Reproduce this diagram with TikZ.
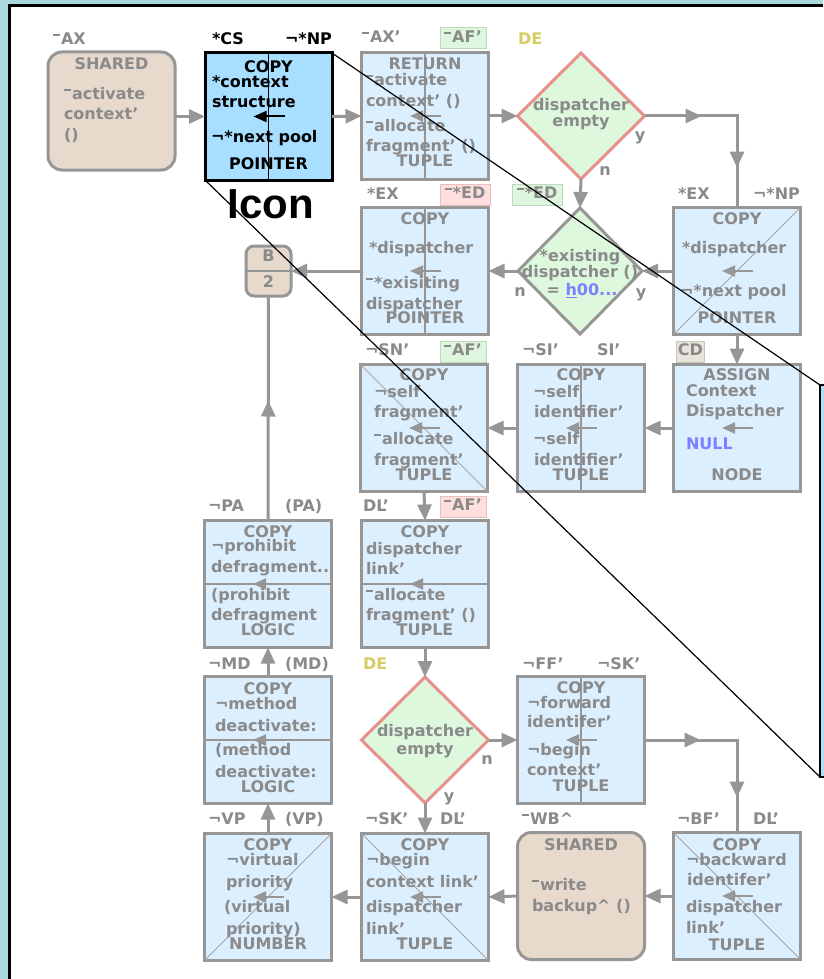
\documentclass[tikz,border=0pt]{standalone}
\usepackage{fontspec}
\setmainfont{DejaVu Sans}
\newfontfamily\iconfont{Liberation Sans}
\usetikzlibrary{shapes.geometric,arrows.meta,decorations.markings,calc}

\definecolor{framebg}{RGB}{170,217,220}
\definecolor{boxblue}{RGB}{220,239,255}
\definecolor{selblue}{RGB}{168,222,255}
\definecolor{linegray}{RGB}{150,150,150}
\definecolor{textgray}{RGB}{138,138,138}
\definecolor{thingray}{RGB}{165,165,165}
\definecolor{sharedtan}{RGB}{232,217,205}
\definecolor{decgreen}{RGB}{221,248,221}
\definecolor{decred}{RGB}{232,145,140}
\definecolor{greenfill}{RGB}{222,245,222}
\definecolor{greenline}{RGB}{190,215,190}
\definecolor{redfill}{RGB}{255,222,222}
\definecolor{redline}{RGB}{235,190,190}
\definecolor{grayfill}{RGB}{232,228,220}
\definecolor{grayline}{RGB}{200,196,188}
\definecolor{tagyellow}{RGB}{214,204,100}
\definecolor{valueblue}{RGB}{125,128,255}

% raised bar used as the "not yet defined" prefix mark
\newcommand\ovl{\raisebox{8.5pt}{\rule{7pt}{2pt}}\hspace{1pt}}

\tikzset{
  every node/.style={inner sep=0pt, outer sep=0pt},
  opbox/.style={draw=linegray, line width=3pt, fill=boxblue, minimum width=127pt, minimum height=127pt},
  selbox/.style={draw=black, line width=3pt, fill=selblue, minimum width=127pt, minimum height=127pt},
  sharedbox/.style={draw=linegray, line width=3pt, fill=sharedtan, rounded corners=14pt, minimum width=127pt, minimum height=127pt},
  decision/.style={diamond, draw=decred, line width=3pt, fill=decgreen, minimum width=127pt, minimum height=126pt},
  lbl/.style={font=\bfseries\fontsize{16}{16}\selectfont, text=textgray, text height=10pt, text depth=2.5pt},
  ln/.style={lbl, anchor=west},
  hd/.style={lbl, anchor=center},
  tagbox/.style={lbl, anchor=center, draw=#1line, fill=#1fill, line width=1pt, minimum height=21pt, inner xsep=3pt},
  conn/.style={draw=linegray, line width=3pt, -{Triangle[length=16pt,width=14pt]}},
  divider/.style={draw=linegray, line width=2pt},
  diag/.style={draw=thingray, line width=1pt},
  zoomline/.style={draw=black, line width=1.2pt},
  midtips/.style={color=linegray, line width=3pt, postaction={decorate},
    decoration={markings, mark=at position #1 with {\arrow{Triangle[length=16pt,width=14pt]}}}},
  bendtips/.style 2 args={color=linegray, line width=3pt, postaction={decorate},
    decoration={markings,
      mark=at position #1 with {\arrow{Triangle[length=16pt,width=14pt]}},
      mark=at position #2 with {\arrow{Triangle[length=16pt,width=14pt]}}}},
}

% small wire glyph at the centre of an operation box
\newcommand\wireglyph[2]{%
  \draw[#2, line width=2pt, {Triangle[length=13pt,width=11pt]}-]
    ($(#1.center)+(-15,0)$) -- ($(#1.center)+(16,0)$);%
}

\begin{document}
\begin{tikzpicture}[x=1pt, y=-1pt]
\useasboundingbox (0,0) rectangle (823,979);

% window frame
\fill[framebg] (0,0) rectangle (823,979);
\fill[white] (10,6) rectangle (823,979);
\draw[black, line width=3pt] (9.5,979) -- (9.5,5.5) -- (823,5.5);

% magnified view edge
\coordinate (zt) at (820,385);
\coordinate (zb) at (820,777);
\draw[black, line width=2pt, fill=selblue] (zt) rectangle (832,777);

% ---------- nodes ----------
\node[sharedbox, minimum height=118pt] (b1) at (111.5,111) {};
\node[selbox] (b2) at (268.5,116.5) {};
\node[opbox] (b3) at (425,116) {};
\node[decision] (d1) at (581,116) {};

\node[draw=linegray, line width=3pt, fill=sharedtan, rounded corners=8pt,
      minimum width=45pt, minimum height=50pt] (bb) at (268.5,271) {};
\node[opbox] (b4) at (425,271) {};
\node[decision, draw=linegray, minimum width=124pt] (d2) at (580,271) {};
\node[opbox] (b5) at (737,271) {};

\node[opbox] (b6) at (424,428) {};
\node[opbox] (b7) at (581,428) {};
\node[opbox] (b8) at (737,428) {};

\node[opbox] (b9) at (268,584) {};
\node[opbox] (b10) at (425,584) {};

\node[opbox] (b11) at (268,740) {};
\node[decision] (d3) at (425,740) {};
\node[opbox] (b12) at (581,740) {};

\node[opbox] (b13) at (268,897) {};
\node[opbox] (b14) at (425,897) {};
\node[sharedbox] (b15) at (581,896) {};
\node[opbox] (b16) at (737,896) {};

% ---------- dividers inside boxes ----------
\draw[black, line width=1.5pt] (b2.north) -- (b2.south);
\draw[divider] (b3.north) -- (b3.south);
\draw[divider] (b4.north) -- (b4.south);
\draw[divider] (b7.north) -- (b7.south);
\draw[divider] (b12.north) -- (b12.south);
\draw[divider] (b9.west) -- (b9.east);
\draw[divider] (b10.west) -- (b10.east);
\draw[divider] (b11.west) -- (b11.east);
\draw[divider] (bb.west) -- (bb.east);
\draw[diag] (b5.south west) -- (b5.north east);
\draw[diag] (b13.south west) -- (b13.north east);
\draw[diag] (b6.north west) -- (b6.south east);
\draw[diag] (b14.north west) -- (b14.south east);
\draw[diag] (b16.north west) -- (b16.south east);

% ---------- wire glyphs ----------
\wireglyph{b2}{black}
\foreach \b in {b3,b4,b5,b6,b7,b8,b9,b10,b11,b12,b13,b14,b16} {\wireglyph{\b}{linegray}}

% ---------- connectors ----------
\draw[conn] (b1.east |- b2.west) -- (b2.west);
\draw[conn] (b2.east) -- (b3.west);
\draw[conn] (b3.east) -- (d1.west);
\draw[bendtips={57pt}{144pt}] (d1.east) -| (b5.north);
\draw[conn] (d1.south) -- (d2.north);
\draw[conn] (d2.west) -- (b4.east);
\draw[conn] (b5.west) -- (d2.east);
\draw[conn] (b4.west) -- (bb.east);
\draw[midtips=120pt] (b9.north) -- (bb.south);
\draw[conn] (b5.south) -- (b8.north);
\draw[conn] (b8.west) -- (b7.east);
\draw[conn] (b7.west) -- (b6.east);
\draw[conn] (b6.south) -- (b10.north);
\draw[conn] (b11.north) -- (b9.south);
\draw[conn] (b10.south) -- (d3.north);
\draw[conn] (d3.east) -- (b12.west);
\draw[bendtips={56pt}{150pt}] (b12.east) -| (b16.north);
\draw[conn] (d3.south) -- (b14.north);
\draw[conn] (b13.north) -- (b11.south);
\draw[conn] (b14.west) -- (b13.east);
\draw[conn] (b15.west) -- (b14.east);
\draw[conn] (b16.west) -- (b15.east);

% ---------- texts: row 1 ----------
\node[ln] at (53,41) {\ovl AX};
\node[hd] at (111.5,66) {SHARED};
\node[ln] at (64,96) {\ovl activate};
\node[ln] at (64,116) {context'};
\node[ln] at (64,137) {()};

\node[ln, text=black] at (212,41) {*CS};
\node[ln, text=black] at (285,41) {¬*NP};
\node[hd, text=black] at (268.5,69) {COPY};
\node[ln, text=black] at (212,84) {*context};
\node[ln, text=black] at (212,104) {structure};
\node[ln, text=black] at (211,139) {¬*next pool};
\node[hd, text=black] at (268.5,166) {POINTER};

\node[ln] at (362,39) {\ovl AX'};
\node[tagbox=green, minimum width=46pt] at (463,38.5) {\ovl AF'};
\node[ln, text=tagyellow] at (518,41) {DE};
\node[hd] at (425,66) {RETURN};
\node[ln] at (366,82) {\ovl activate};
\node[ln] at (366,103) {context' ()};
\node[ln] at (366,128) {\ovl allocate};
\node[ln] at (366,148) {fragment' ()};
\node[hd] at (425,163) {TUPLE};

\node[hd] at (581,107) {dispatcher};
\node[hd] at (581,123) {empty};
\node[hd] at (640,137) {y};
\node[hd] at (605,172) {n};

% ---------- row 2 ----------
\node[hd] at (268.5,258) {B};
\node[hd] at (268.5,284) {2};

\node[ln] at (367,196) {*EX};
\node[tagbox=red, minimum width=50pt] at (465,195) {\ovl *ED};
\node[hd] at (425,221) {COPY};
\node[ln] at (369,250) {*dispatcher};
\node[ln] at (366,285) {\ovl *exisiting};
\node[ln] at (366,305.5) {dispatcher};
\node[hd] at (425,320) {POINTER};

\node[tagbox=green, minimum width=50pt] at (537,195) {\ovl *ED};
\node[hd] at (580,258) {*existing};
\node[hd] at (580,274) {dispatcher ()};
\node[hd] at (582,292) {= \textcolor{valueblue}{\underline{h}00...}};
\node[hd] at (520,293) {n};
\node[hd] at (641,294) {y};

\node[ln] at (678,196) {*EX};
\node[ln] at (753,196) {¬*NP};
\node[hd] at (737,221) {COPY};
\node[ln] at (682,250) {*dispatcher};
\node[ln] at (680,293) {¬*next pool};
\node[hd] at (737,320) {POINTER};

% ---------- row 3 ----------
\node[ln] at (365,352) {¬SN'};
\node[tagbox=green, minimum width=46pt] at (463,351.5) {\ovl AF'};
\node[hd] at (424,377) {COPY};
\node[ln] at (374,394) {¬self};
\node[ln] at (374,414) {fragment'};
\node[ln] at (374,441) {\ovl allocate};
\node[ln] at (374,462) {fragment'};
\node[hd] at (424,477) {TUPLE};

\node[ln] at (522,352) {¬SI'};
\node[ln] at (597,352) {SI'};
\node[hd] at (581,377) {COPY};
\node[ln] at (533,394) {¬self};
\node[ln] at (534,414) {identifier'};
\node[ln] at (533,441) {¬self};
\node[ln] at (534,462) {identifier'};
\node[hd] at (581,477) {TUPLE};

\node[tagbox=gray, inner xsep=1pt, minimum width=25pt] at (690.5,351.5) {CD};
\node[hd] at (737,377) {ASSIGN};
\node[ln] at (686,392.5) {Context};
\node[ln] at (686,413) {Dispatcher};
\node[ln, text=valueblue] at (686,446) {NULL};
\node[hd] at (737,477) {NODE};

% ---------- row 4 ----------
\node[ln] at (208,508) {¬PA};
\node[ln] at (285,508) {(PA)};
\node[hd] at (268,533.5) {COPY};
\node[ln] at (211,548) {¬prohibit};
\node[ln] at (211,569) {defragment..};
\node[ln] at (211,597) {(prohibit};
\node[ln] at (211,617) {defragment};
\node[hd] at (268,632) {LOGIC};

\node[ln] at (363,508) {DL'};
\node[tagbox=red, minimum width=46pt] at (463,507) {\ovl AF'};
\node[hd] at (425,534) {COPY};
\node[ln] at (366,551) {dispatcher};
\node[ln] at (366,571) {link'};
\node[ln] at (366,597) {\ovl allocate};
\node[ln] at (366,617) {fragment' ()};
\node[hd] at (425,632) {TUPLE};

% ---------- row 5 ----------
\node[ln] at (208,666) {¬MD};
\node[ln] at (285,666) {(MD)};
\node[hd] at (268,691) {COPY};
\node[ln] at (215,706) {¬method};
\node[ln] at (215,728) {deactivate:};
\node[ln] at (215,752) {(method};
\node[ln] at (215,774) {deactivate:};
\node[hd] at (268,789) {LOGIC};

\node[ln, text=tagyellow] at (363,666) {DE};
\node[hd] at (425,733) {dispatcher};
\node[hd] at (425,751) {empty};
\node[hd] at (487,761) {n};
\node[hd] at (449,798) {y};

\node[ln] at (522,666) {¬FF'};
\node[ln] at (597,666) {¬SK'};
\node[hd] at (581,690) {COPY};
\node[ln] at (527,705) {¬forward};
\node[ln] at (527,724) {identifer'};
\node[ln] at (527,752) {¬begin};
\node[ln] at (527,772) {context'};
\node[hd] at (581,788) {TUPLE};

% ---------- row 6 ----------
\node[ln] at (208,821) {¬VP};
\node[ln] at (285,821) {(VP)};
\node[hd] at (268,847) {COPY};
\node[ln] at (226,862) {¬virtual};
\node[ln] at (226,884) {priority};
\node[ln] at (224,909) {(virtual};
\node[ln] at (226,931) {priority)};
\node[hd] at (268,946) {NUMBER};

\node[ln] at (365,821) {¬SK'};
\node[ln] at (440,821) {DL'};
\node[hd] at (425,847) {COPY};
\node[ln] at (366,862) {¬begin};
\node[ln] at (366,884) {context link'};
\node[ln] at (366,909) {dispatcher};
\node[ln] at (366,931) {link'};
\node[hd] at (425,946) {TUPLE};

\node[ln] at (522,821) {\ovl WB\textasciicircum};
\node[hd] at (581,847) {SHARED};
\node[ln] at (532,887) {\ovl write};
\node[ln] at (532,908) {backup\textasciicircum\ ()};

\node[ln] at (677,821) {¬BF'};
\node[ln] at (753,821) {DL'};
\node[hd] at (737,846.5) {COPY};
\node[ln] at (686,861.5) {¬backward};
\node[ln] at (687,882) {identifer'};
\node[ln] at (686,909) {dispatcher};
\node[ln] at (686,930) {link'};
\node[hd] at (737,947) {TUPLE};

% ---------- selected icon caption and zoom lines ----------
\node[font=\iconfont\bfseries\fontsize{42}{42}\selectfont, anchor=base] (iconlbl) at (271,218) {Icon};
\draw[zoomline] (b2.north east) -- (zt);
\draw[zoomline] (b2.south west) -- (zb);
\end{tikzpicture}
\end{document}
